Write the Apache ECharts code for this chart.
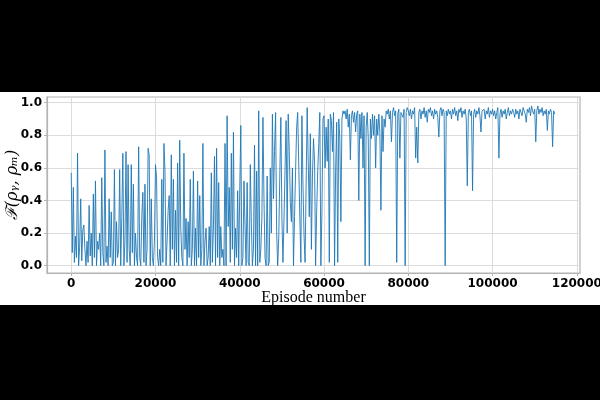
<!DOCTYPE html>
<html>
<head>
<meta charset="utf-8">
<script src="https://cdn.jsdelivr.net/npm/echarts@6/dist/echarts.min.js"></script>
<style>html,body{margin:0;padding:0;background:#000;}#c{width:600px;height:400px;}</style>
</head>
<body>
<div id="c"></div>
<script>
// Episode step between recorded points
const episodeStep = 250;
// Fidelity values, 20 points (5000 episodes) per row
const fid00 = [0.57,0.08,0.48,0.02,0.18,0.05,0.69,0.0,0.12,0.41,0.03,0.22,0.25,0.1,0.0,0.15,0.02,0.37,0.06,0.2];
const fid05 = [0.0,0.44,0.05,0.52,0.0,0.15,0.1,0.2,0.0,0.54,0.08,0.0,0.71,0.02,0.12,0.0,0.41,0.05,0.33,0.0];
const fid10 = [0.02,0.59,0.0,0.27,0.05,0.1,0.59,0.0,0.3,0.69,0.0,0.15,0.7,0.02,0.62,0.1,0.0,0.62,0.08,0.5];
const fid15 = [0.0,0.2,0.05,0.0,0.73,0.05,0.0,0.3,0.45,0.02,0.5,0.0,0.1,0.72,0.68,0.0,0.41,0.05,0.0,0.15];
const fid20 = [0.62,0.54,0.05,0.0,0.1,0.0,0.53,0.02,0.75,0.58,0.0,0.15,0.34,0.43,0.0,0.68,0.1,0.53,0.0,0.34];
const fid25 = [0.02,0.63,0.0,0.77,0.23,0.05,0.0,0.69,0.1,0.29,0.0,0.27,0.05,0.53,0.0,0.1,0.58,0.0,0.23,0.0];
const fid30 = [0.52,0.05,0.43,0.0,0.1,0.75,0.0,0.15,0.23,0.0,0.05,0.24,0.0,0.57,0.02,0.23,0.67,0.0,0.72,0.05];
const fid35 = [0.51,0.0,0.24,0.05,0.1,0.0,0.75,0.0,0.92,0.24,0.48,0.02,0.69,0.1,0.82,0.0,0.23,0.05,0.46,0.0];
const fid40 = [0.47,0.86,0.0,0.05,0.52,0.24,0.0,0.51,0.02,0.0,0.62,0.26,0.0,0.1,0.74,0.0,0.58,0.0,0.95,0.02];
const fid45 = [0.1,0.3,0.91,0.4,0.05,0.0,0.55,0.0,0.02,0.6,0.2,0.93,0.41,0.7,0.94,0.21,0.0,0.17,0.55,0.91];
const fid50 = [0.3,0.02,0.29,0.6,0.89,0.2,0.93,0.7,0.39,0.27,0.6,0.0,0.3,0.58,0.85,0.94,0.93,0.3,0.02,0.92];
const fid55 = [0.5,0.19,0.02,0.5,0.97,0.64,0.3,0.81,0.1,0.55,0.78,0.64,0.0,0.33,0.58,0.75,0.94,0.0,0.33,0.9];
const fid60 = [0.92,0.6,0.85,0.64,0.9,0.02,0.93,0.89,0.7,0.94,0.0,0.58,0.88,0.02,0.9,0.78,0.27,0.9,0.95,0.93];
const fid65 = [0.95,0.9,0.96,0.85,0.93,0.65,0.92,0.95,0.88,0.94,0.82,0.93,0.95,0.4,0.93,0.78,0.94,0.6,0.92,0.0];
const fid70 = [0.85,0.94,0.78,0.0,0.9,0.78,0.93,0.8,0.92,0.6,0.9,0.8,0.93,0.82,0.34,0.92,0.7,0.9,0.85,0.95];
const fid75 = [0.93,0.96,0.9,0.95,0.76,0.94,0.97,0.92,0.95,0.02,0.93,0.96,0.66,0.94,0.95,0.91,0.96,0.0,0.94,0.97];
const fid80 = [0.95,0.92,0.96,0.9,0.95,0.93,0.97,0.66,0.85,0.63,0.94,0.96,0.9,0.95,0.93,0.97,0.91,0.95,0.88,0.96];
const fid85 = [0.94,0.97,0.92,0.95,0.9,0.96,0.93,0.95,0.91,0.79,0.95,0.97,0.92,0.96,0.94,0.0,0.95,0.92,0.96,0.93];
const fid90 = [0.95,0.9,0.96,0.93,0.97,0.92,0.95,0.89,0.96,0.94,0.97,0.91,0.95,0.93,0.96,0.9,0.49,0.94,0.96,0.92];
const fid95 = [0.95,0.46,0.93,0.96,0.91,0.95,0.93,0.97,0.92,0.82,0.95,0.94,0.96,0.9,0.95,0.93,0.97,0.91,0.95,0.93];
const fid100 = [0.96,0.92,0.95,0.9,0.94,0.97,0.66,0.93,0.96,0.91,0.95,0.93,0.96,0.9,0.94,0.97,0.92,0.95,0.93,0.96];
const fid105 = [0.94,0.91,0.96,0.93,0.95,0.9,0.96,0.94,0.92,0.97,0.95,0.93,0.88,0.96,0.94,0.97,0.92,0.98,0.95,0.93];
const fid110 = [0.96,0.76,0.95,0.98,0.93,0.96,0.94,0.97,0.92,0.95,0.93,0.96,0.83,0.95,0.93,0.96,0.94,0.73,0.95,0.93];

const xTicks = [0, 20000, 40000, 60000, 80000, 100000, 120000];
const yTicks = [0.0, 0.2, 0.4, 0.6, 0.8, 1.0];

const fidelity = [].concat(fid00,fid05,fid10,fid15,fid20,fid25,fid30,fid35,fid40,fid45,
  fid50,fid55,fid60,fid65,fid70,fid75,fid80,fid85,fid90,fid95,fid100,fid105,fid110);
const seriesData = fidelity.map((v, i) => [i * episodeStep, v]);

const chart = echarts.init(document.getElementById('c'), null, {renderer: 'canvas'});
const tickFont = {color: '#000', fontFamily: 'DejaVu Sans', fontWeight: 'bold', fontSize: 12};
chart.setOption({
  backgroundColor: '#000',
  animation: false,
  graphic: {elements: [{type: 'rect', z: -100, silent: true,
    shape: {x: 0, y: 92, width: 600, height: 213}, style: {fill: '#fff'}}]},
  grid: {left: 47, right: 20, top: 97, bottom: 127, outerBoundsMode: 'none', containLabel: false,
    show: true, borderColor: '#b3b3b3', borderWidth: 1.2, backgroundColor: 'transparent'},
  xAxis: {
    type: 'value', min: -5750, max: 120750,
    name: 'Episode number', nameLocation: 'middle', nameGap: 17, nameMoveOverlap: false,
    nameTextStyle: {fontFamily: 'Liberation Serif', fontSize: 16, color: '#000'},
    axisLine: {show: true, onZero: false, lineStyle: {color: '#b3b3b3', width: 1.2}},
    axisTick: {show: true, length: 3, lineStyle: {color: '#b3b3b3'}, customValues: xTicks},
    axisLabel: Object.assign({margin: 5, customValues: xTicks, formatter: v => String(v)}, tickFont),
    splitLine: {show: true, lineStyle: {color: '#dcdcdc', width: 1}}
  },
  yAxis: {
    type: 'value', min: -0.045, max: 1.035,
    name: 'ℱ(ρᵧ, ρₘ)', nameLocation: 'middle', nameGap: 26, nameRotate: 90, nameMoveOverlap: false,
    nameTextStyle: {fontFamily: 'DejaVu Serif', fontStyle: 'italic', fontSize: 16, color: '#000'},
    axisLine: {show: true, onZero: false, lineStyle: {color: '#b3b3b3', width: 1.2}},
    axisTick: {show: true, length: 3, lineStyle: {color: '#b3b3b3'}, customValues: yTicks},
    axisLabel: Object.assign({margin: 5, customValues: yTicks, formatter: v => v.toFixed(1)}, tickFont),
    splitLine: {show: true, lineStyle: {color: '#dcdcdc', width: 1}}
  },
  series: [{
    type: 'line', data: seriesData, showSymbol: false, symbol: 'none',
    lineStyle: {color: '#1f77b4', width: 0.9}, sampling: null, z: 3
  }]
});
</script>
</body>
</html>
